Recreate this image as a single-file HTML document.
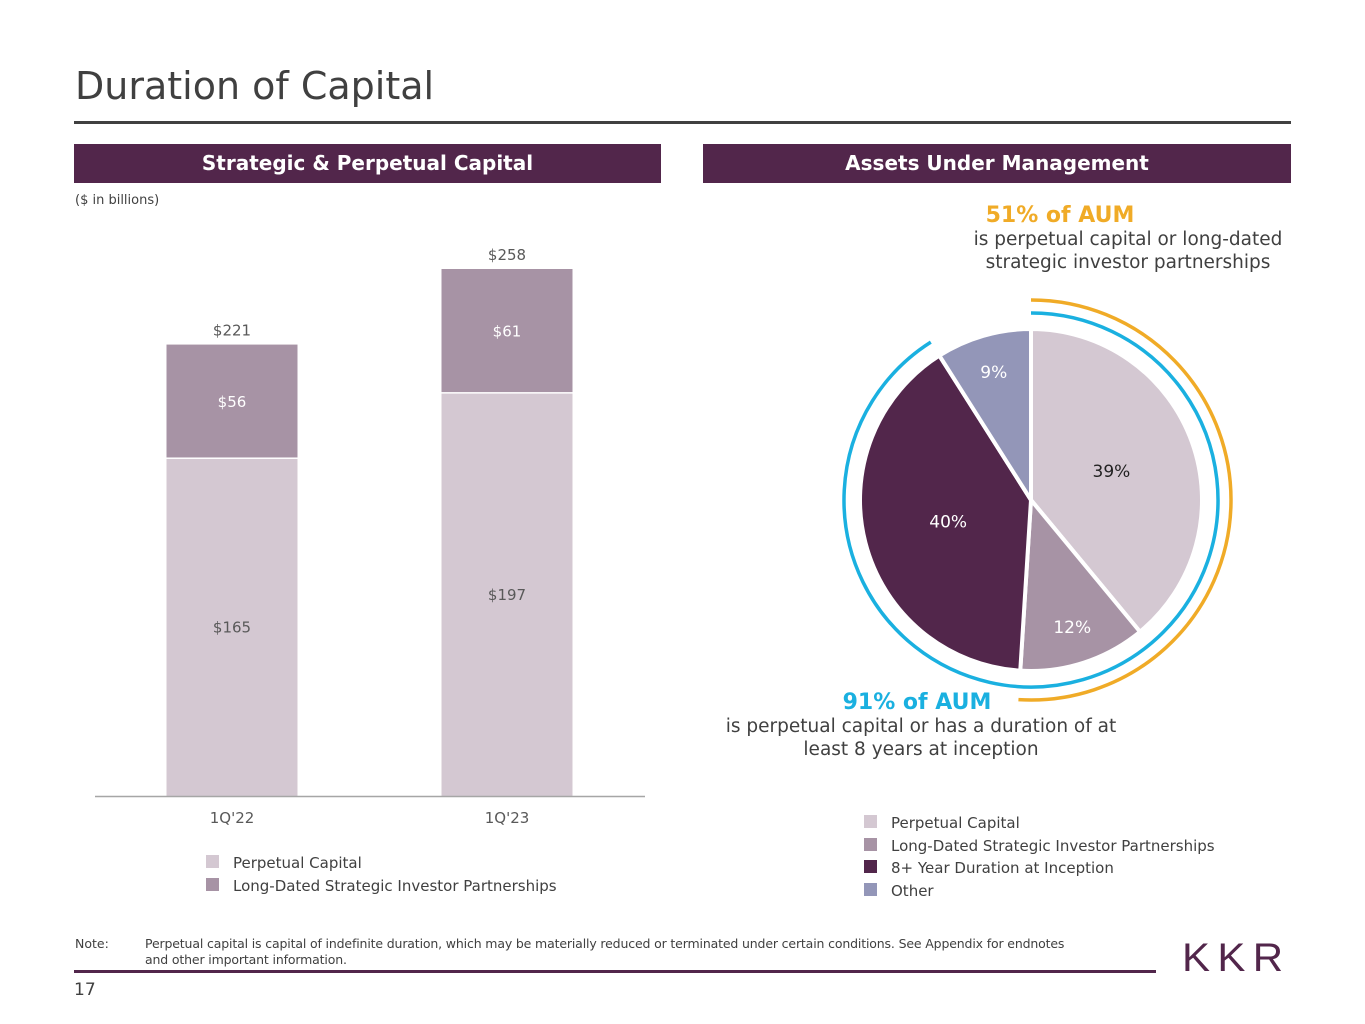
<!DOCTYPE html>
<html><head><meta charset="utf-8"><style>
body{margin:0;width:1365px;height:1024px;background:#fff;font-family:"DejaVu Sans","Liberation Sans",sans-serif;position:relative;overflow:hidden;color:#404040}
.abs{position:absolute}
</style></head><body>
<div class="abs" style="left:75px;top:64px;font-size:38px;color:#404040;font-family:'DejaVu Sans',sans-serif">Duration of Capital</div>
<div class="abs" style="left:74px;top:121px;width:1217px;height:3px;background:#404040"></div>
<div class="abs" style="left:74px;top:144px;width:587px;height:39px;background:#52264b;color:#fff;font-weight:bold;font-size:20px;line-height:39px;text-align:center">Strategic &amp; Perpetual Capital</div>
<div class="abs" style="left:703px;top:144px;width:588px;height:39px;background:#52264b;color:#fff;font-weight:bold;font-size:20px;line-height:39px;text-align:center">Assets Under Management</div>
<div class="abs" style="left:75px;top:193px;font-size:13px">($ in billions)</div>

<svg class="abs" style="left:0;top:0" width="1365" height="1024">
<g id="bars"></g>
<g id="pie"></g>
</svg>

<div class="abs" style="left:930px;top:203px;width:400px;text-align:center;">
<div style="color:#f0ab27;font-weight:bold;font-size:22px;position:relative;left:-70px">51% of AUM</div>
<div style="font-size:18.5px;line-height:23px;color:#404040;position:relative;left:-2px">is perpetual capital or long-dated<br>strategic investor partnerships</div></div>
<div class="abs" style="left:700px;top:690px;width:442px;text-align:center;">
<div style="color:#1ab0e0;font-weight:bold;font-size:22px;position:relative;left:-4px">91% of AUM</div>
<div style="font-size:18.5px;line-height:23px;color:#404040">is perpetual capital or has a duration of at<br>least 8 years at inception</div></div>

<div class="abs" style="left:206px;top:852px;font-size:15px;line-height:23px">
<div><span style="display:inline-block;width:13px;height:13px;background:#d4c8d2;margin-right:14px"></span>Perpetual Capital</div>
<div><span style="display:inline-block;width:13px;height:13px;background:#a793a5;margin-right:14px"></span>Long-Dated Strategic Investor Partnerships</div></div>
<div class="abs" style="left:864px;top:812px;font-size:15px;line-height:22.5px">
<div><span style="display:inline-block;width:13px;height:13px;background:#d4c8d2;margin-right:14px"></span>Perpetual Capital</div>
<div><span style="display:inline-block;width:13px;height:13px;background:#a793a5;margin-right:14px"></span>Long-Dated Strategic Investor Partnerships</div>
<div><span style="display:inline-block;width:13px;height:13px;background:#52264b;margin-right:14px"></span>8+ Year Duration at Inception</div>
<div><span style="display:inline-block;width:13px;height:13px;background:#9396b8;margin-right:14px"></span>Other</div></div>

<div class="abs" style="left:75px;top:936px;font-size:12.5px;line-height:16px;width:1075px">
<span style="position:absolute;left:0">Note:</span><div style="margin-left:70px;letter-spacing:-0.15px">Perpetual capital is capital of indefinite duration, which may be materially reduced or terminated under certain conditions. See Appendix for endnotes<br>and other important information.</div></div>
<div class="abs" style="left:74px;top:970px;width:1082px;height:3px;background:#52264b"></div>
<div class="abs" style="left:74px;top:980px;font-size:17px">17</div>
<div class="abs" style="left:1182px;top:936px;font-size:40px;color:#52264b;letter-spacing:7px;font-family:'Liberation Sans',sans-serif;transform:scaleX(1.05);transform-origin:left">KKR</div>

<script>
const categories=["1Q'22","1Q'23"];
const perpetual=[165,197];
const longDated=[56,61];
const totals=[221,258];
const pieLabels=["Perpetual Capital","Long-Dated Strategic Investor Partnerships","8+ Year Duration at Inception","Other"];
const pieValues=[39,12,40,9];
const arcPercents=[51,91];

const NS="http://www.w3.org/2000/svg";
function mk(t,a,p){const e=document.createElementNS(NS,t);for(const k in a)e.setAttribute(k,a[k]);p.appendChild(e);return e;}
const bars=document.getElementById('bars');
const base=796, scale=527/258;
const y=v=>base-v*scale;
const xc=i=>232+i*275;
const bw=131;
categories.forEach((c,i)=>{
  const r1=mk('rect',{x:xc(i)-bw/2,y:y(perpetual[i]),width:bw,height:perpetual[i]*scale,fill:'#d4c8d2'},bars);
  
  
  const r2=mk('rect',{x:xc(i)-bw/2,y:y(perpetual[i]+longDated[i]),width:bw,height:longDated[i]*scale-1.5,fill:'#a793a5'},bars);
  
  
  const t1=mk('text',{x:xc(i),y:y(perpetual[i]/2)+5,'text-anchor':'middle','font-size':15,fill:'#595959'},bars);t1.textContent='$'+perpetual[i];
  
  
  const t2=mk('text',{x:xc(i),y:y(perpetual[i]+longDated[i]/2)+5,'text-anchor':'middle','font-size':15,fill:'#fff'},bars);t2.textContent='$'+longDated[i];
  
  
  const t3=mk('text',{x:xc(i),y:y(totals[i])-9,'text-anchor':'middle','font-size':15,fill:'#595959'},bars);t3.textContent='$'+totals[i];
  
  
  const t4=mk('text',{x:xc(i),y:823,'text-anchor':'middle','font-size':15,fill:'#595959'},bars);t4.textContent=c;
  
  
});
const ax=mk('line',{x1:95,x2:645,y1:base+0.5,y2:base+0.5,stroke:'#a6a6a6','stroke-width':1.5},bars);



const pie=document.getElementById('pie');
const cx=1031,cy=500,R=171;
const colors=['#d4c8d2','#a793a5','#52264b','#9396b8'];
const txtc=['#222','#fff','#fff','#fff'];
const total=pieValues.reduce((a,b)=>a+b,0);
const pt=(a,r)=>[cx+r*Math.sin(a),cy-r*Math.cos(a)];
let a0=0;
pieValues.forEach((v,i)=>{
  const a1=a0+v/total*2*Math.PI;
  const p0=pt(a0,R),p1=pt(a1,R);
  const s=mk('path',{d:`M${cx},${cy}L${p0[0]},${p0[1]}A${R},${R} 0 ${a1-a0>Math.PI?1:0} 1 ${p1[0]},${p1[1]}Z`,fill:colors[i],stroke:'#fff','stroke-width':4,'stroke-linejoin':'round'},pie);
  
  
  const m=(a0+a1)/2, lp=pt(m,R*(v<15?0.78:0.5));
  const t=mk('text',{x:lp[0],y:lp[1]+6,'text-anchor':'middle','font-size':17,fill:txtc[i]},pie);t.textContent=v+'%';
  
  
  a0=a1;
});
function arc(r,pct,col,name){
  const a1=pct/100*2*Math.PI,p0=pt(0,r),p1=pt(a1,r);
  const e=mk('path',{d:`M${p0[0]},${p0[1]}A${r},${r} 0 ${pct>50?1:0} 1 ${p1[0]},${p1[1]}`,fill:'none',stroke:col,'stroke-width':3.5},pie);
  
  
}
arc(200,arcPercents[0],'#f0ab27','arc-51-percent');
arc(187,arcPercents[1],'#1ab0e0','arc-91-percent');
</script>
</body></html>
